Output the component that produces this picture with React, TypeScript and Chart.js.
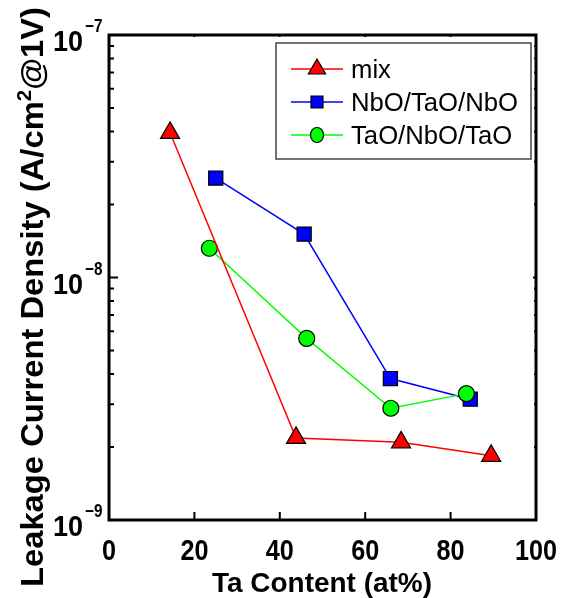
import React, { useEffect, useRef } from "react";
import { Chart, registerables } from "chart.js";
Chart.register(...registerables);

// ---- data ----
const seriesNames = ["mix", "NbO/TaO/NbO", "TaO/NbO/TaO"];
const mixX = [14.3, 43.8, 68.4, 89.5];
const mixY = [3.95e-8, 2.18e-9, 2.09e-9, 1.84e-9];
const nbX = [25.0, 45.7, 65.9, 84.6];
const nbY = [2.57e-8, 1.51e-8, 3.83e-9, 3.15e-9];
const taX = [23.5, 46.3, 66.0, 83.7];
const taY = [1.32e-8, 5.61e-9, 2.89e-9, 3.32e-9];
const xTicks = [0, 20, 40, 60, 80, 100];
const yExponents = [-9, -8, -7];
const xTitle = "Ta Content (at%)";
const yTitleA = "Leakage Current Density (A/cm";
const yTitleSup = "2";
const yTitleB = "@1V)";

const FONT = "'Liberation Sans', Arial, sans-serif";

function toPts(xs: number[], ys: number[]) {
  return xs.map((x, i) => ({ x, y: ys[i] }));
}

function drawScaled(
  ctx: CanvasRenderingContext2D,
  text: string,
  x: number,
  y: number,
  font: string,
  sx: number,
  align: "left" | "center" | "right"
) {
  ctx.save();
  ctx.font = font;
  const w = ctx.measureText(text).width * sx;
  let left = x;
  if (align === "center") left = x - w / 2;
  if (align === "right") left = x - w;
  ctx.translate(left, y);
  ctx.scale(sx, 1);
  ctx.textAlign = "left";
  ctx.textBaseline = "alphabetic";
  ctx.fillText(text, 0, 0);
  ctx.restore();
  return w;
}

const decorPlugin = {
  id: "decor",
  afterDraw(chart: any) {
    const ctx: CanvasRenderingContext2D = chart.ctx;
    const { left, right, top, bottom } = chart.chartArea;
    const xs = chart.scales.x;
    const ys = chart.scales.y;
    ctx.save();
    ctx.strokeStyle = "#000";
    ctx.fillStyle = "#000";

    // ticks
    ctx.lineWidth = 2;
    ctx.beginPath();
    for (let e = yExponents[0]; e < yExponents[yExponents.length - 1]; e++) {
      for (let k = 2; k <= 9; k++) {
        const py = ys.getPixelForValue(k * Math.pow(10, e));
        ctx.moveTo(left, py);
        ctx.lineTo(left + 5, py);
        ctx.moveTo(right, py);
        ctx.lineTo(right - 2, py);
      }
    }
    for (const e of yExponents) {
      const py = ys.getPixelForValue(Math.pow(10, e));
      ctx.moveTo(left, py);
      ctx.lineTo(left + 9, py);
      ctx.moveTo(right, py);
      ctx.lineTo(right - 3, py);
    }
    for (const t of xTicks) {
      const px = xs.getPixelForValue(t);
      ctx.moveTo(px, bottom);
      ctx.lineTo(px, bottom - 8);
      ctx.moveTo(px, top);
      ctx.lineTo(px, top + 2);
    }
    ctx.stroke();

    // frame
    ctx.lineWidth = 3;
    ctx.strokeRect(left, top, right - left, bottom - top);

    // x tick labels
    for (const t of xTicks) {
      const px = xs.getPixelForValue(t);
      drawScaled(ctx, String(t), px, bottom + 40, `bold 30px ${FONT}`, 0.84, "center");
    }
    // y tick labels
    for (const e of yExponents) {
      const py = ys.getPixelForValue(Math.pow(10, e));
      drawScaled(ctx, "10", left - 26, py + 16, `bold 30px ${FONT}`, 0.9, "right");
      drawScaled(ctx, "\u2212" + String(Math.abs(e)), left - 24, py - 3, `bold 18px ${FONT}`, 0.85, "left");
    }

    // x title
    ctx.font = `bold 28px ${FONT}`;
    const xw = ctx.measureText(xTitle).width;
    drawScaled(ctx, xTitle, 212, 592, `bold 28px ${FONT}`, 220 / xw, "left");

    // y title (rotated)
    ctx.save();
    ctx.translate(43, 587);
    ctx.rotate(-Math.PI / 2);
    ctx.font = `bold 32px ${FONT}`;
    const wa = ctx.measureText(yTitleA).width;
    const wb = ctx.measureText(yTitleB).width;
    ctx.font = `bold 20px ${FONT}`;
    const ws = ctx.measureText(yTitleSup).width;
    const s = 580 / (wa + wb + ws);
    let cx = 0;
    cx += drawScaled(ctx, yTitleA, cx, 0, `bold 32px ${FONT}`, s, "left");
    cx += drawScaled(ctx, yTitleSup, cx, -12, `bold 20px ${FONT}`, s, "left");
    drawScaled(ctx, yTitleB, cx, 0, `bold 32px ${FONT}`, s, "left");
    ctx.restore();

    // legend
    const lx = 276, ly = 43, lw = 255, lh = 116;
    ctx.fillStyle = "#fff";
    ctx.fillRect(lx, ly, lw, lh);
    ctx.strokeStyle = "#444";
    ctx.lineWidth = 1.5;
    ctx.strokeRect(lx, ly, lw, lh);
    const rows = [69, 102, 135];
    const colors = ["#ff0000", "#0000ff", "#00ff00"];
    ctx.font = `25px ${FONT}`;
    const refW = ctx.measureText(seriesNames[1]).width;
    const ts = 167 / refW;
    seriesNames.forEach((name, i) => {
      const ry = rows[i];
      ctx.strokeStyle = colors[i];
      ctx.lineWidth = 1.5;
      ctx.beginPath();
      ctx.moveTo(291, ry);
      ctx.lineTo(343, ry);
      ctx.stroke();
      ctx.fillStyle = colors[i];
      ctx.strokeStyle = "#000";
      ctx.lineWidth = 1.2;
      ctx.beginPath();
      const mx = 317;
      if (i === 0) {
        const r = 10;
        ctx.moveTo(mx, ry - r);
        ctx.lineTo(mx + r * 0.866, ry + r * 0.5);
        ctx.lineTo(mx - r * 0.866, ry + r * 0.5);
        ctx.closePath();
      } else if (i === 1) {
        ctx.rect(mx - 6, ry - 6, 12, 12);
      } else {
        ctx.ellipse(mx, ry, 6.5, 7.5, 0, 0, Math.PI * 2);
      }
      ctx.fill();
      ctx.stroke();
      ctx.fillStyle = "#000";
      drawScaled(ctx, name, 351, ry + 9, `25px ${FONT}`, ts, "left");
    });

    ctx.restore();
  },
};

export default function App() {
  const ref = useRef<HTMLCanvasElement>(null);
  useEffect(() => {
    document.body.style.margin = "0";
    const canvas = ref.current!;
    const chart = new Chart(canvas, {
      type: "line",
      data: {
        datasets: [
          {
            label: seriesNames[0],
            data: toPts(mixX, mixY),
            borderColor: "#ff0000",
            backgroundColor: "#ff0000",
            pointBackgroundColor: "#ff0000",
            pointBorderColor: "#000",
            pointBorderWidth: 1.2,
            borderWidth: 1.5,
            pointStyle: "triangle",
            pointRadius: 11,
            order: 0,
          },
          {
            label: seriesNames[1],
            data: toPts(nbX, nbY),
            borderColor: "#0000ff",
            backgroundColor: "#0000ff",
            pointBackgroundColor: "#0000ff",
            pointBorderColor: "#000",
            pointBorderWidth: 1.2,
            borderWidth: 1.5,
            pointStyle: "rect",
            pointRadius: 10,
            order: 2,
          },
          {
            label: seriesNames[2],
            data: toPts(taX, taY),
            borderColor: "#00ff00",
            backgroundColor: "#00ff00",
            pointBackgroundColor: "#00ff00",
            pointBorderColor: "#000",
            pointBorderWidth: 1.2,
            borderWidth: 1.5,
            pointStyle: "circle",
            pointRadius: 8,
            order: 1,
          },
        ],
      },
      options: {
        responsive: false,
        animation: false,
        layout: { padding: { left: 109, right: 28, top: 35, bottom: 78 } },
        plugins: { legend: { display: false }, tooltip: { enabled: false } },
        scales: {
          x: { type: "linear", min: 0, max: 100, display: false },
          y: { type: "logarithmic", min: 1e-9, max: 1e-7, display: false },
        },
      },
      plugins: [decorPlugin],
    });
    return () => chart.destroy();
  }, []);
  return (
    <div style={{ width: 564, height: 598, background: "#fff" }}>
      <canvas ref={ref} width={564} height={598} />
    </div>
  );
}
